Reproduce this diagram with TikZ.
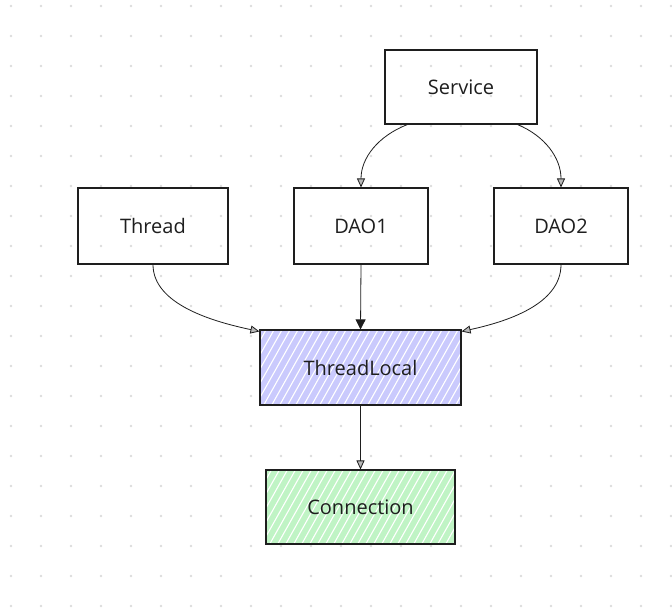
\documentclass[tikz,border=0pt]{standalone}
\usepackage{fontspec}
\setmainfont{Open Sans}
\usetikzlibrary{arrows.meta}
\definecolor{ink}{HTML}{1E1E1E}
\definecolor{dotc}{HTML}{DCDCDC}
\definecolor{lav}{HTML}{CACAFD}
\definecolor{mint}{HTML}{C0F4C5}
\pgfdeclarelayer{dots}
\pgfdeclarelayer{hatch}
\pgfsetlayers{dots,hatch,main}
\tikzset{
  box/.style={draw=ink, line width=1.1pt, inner sep=0pt, text=ink,
    font=\fontsize{20}{23}\selectfont},
  arr/.style={draw=ink, line width=0.8pt,
    -{Triangle[length=9pt,width=8pt,fill=gray!55]}},
  arrf/.style={draw=ink, line width=0.8pt,
    -{Triangle[length=10pt,width=10pt,fill=ink]}},
}
\begin{document}
\begin{tikzpicture}[x=1pt,y=-1pt]
\useasboundingbox (0,0) rectangle (672,614);
\begin{pgfonlayer}{dots}
  \fill[white] (0,0) rectangle (672,614);
  \foreach \i in {0,...,22} \foreach \j in {0,...,20}
    \fill[dotc] (11+30*\i, 6+30*\j) circle (1.3pt);
\end{pgfonlayer}

\node[box, minimum width=152pt, minimum height=74pt] (svc) at (461,87) {Service};
\node[box, minimum width=150pt, minimum height=76pt] (thr) at (153,226) {Thread};
\node[box, minimum width=134pt, minimum height=76pt] (dao1) at (361,226) {DAO1};
\node[box, minimum width=134pt, minimum height=76pt] (dao2) at (561,226) {DAO2};
\node[box, minimum width=201pt, minimum height=75pt] (tl) at (360.5,367.5) {ThreadLocal};
\node[box, minimum width=189pt, minimum height=74pt] (conn) at (360.5,507) {Connection};

\begin{pgfonlayer}{hatch}
  \begin{scope}
    \clip (tl.south west) rectangle (tl.north east);
    \fill[lav] (tl.south west) rectangle (tl.north east);
    \foreach \i in {-60,-52,...,220}
      \draw[white, line width=1.1pt] ([xshift=\i pt]tl.south west) -- ++(45,-80);
  \end{scope}
  \begin{scope}
    \clip (conn.south west) rectangle (conn.north east);
    \fill[mint] (conn.south west) rectangle (conn.north east);
    \foreach \i in {-60,-52,...,210}
      \draw[white, line width=1.1pt] ([xshift=\i pt]conn.south west) -- ++(45,-80);
  \end{scope}
\end{pgfonlayer}

\draw[arr] ([xshift=23pt]svc.south west) .. controls (378,136) and (361,158) .. (dao1.north);
\draw[arr] ([xshift=-20pt]svc.south east) .. controls (545,136) and (561,158) .. (dao2.north);
\draw[arr] (thr.south) .. controls (153,305) and (215,322) .. ([yshift=-2pt]tl.north west);
\draw[arrf] (dao1.south) -- (tl.north);
\draw[arr] (dao2.south) .. controls (561,305) and (505,322) .. ([yshift=-2pt]tl.north east);
\draw[arr] (tl.south) -- (conn.north);
\end{tikzpicture}
\end{document}
